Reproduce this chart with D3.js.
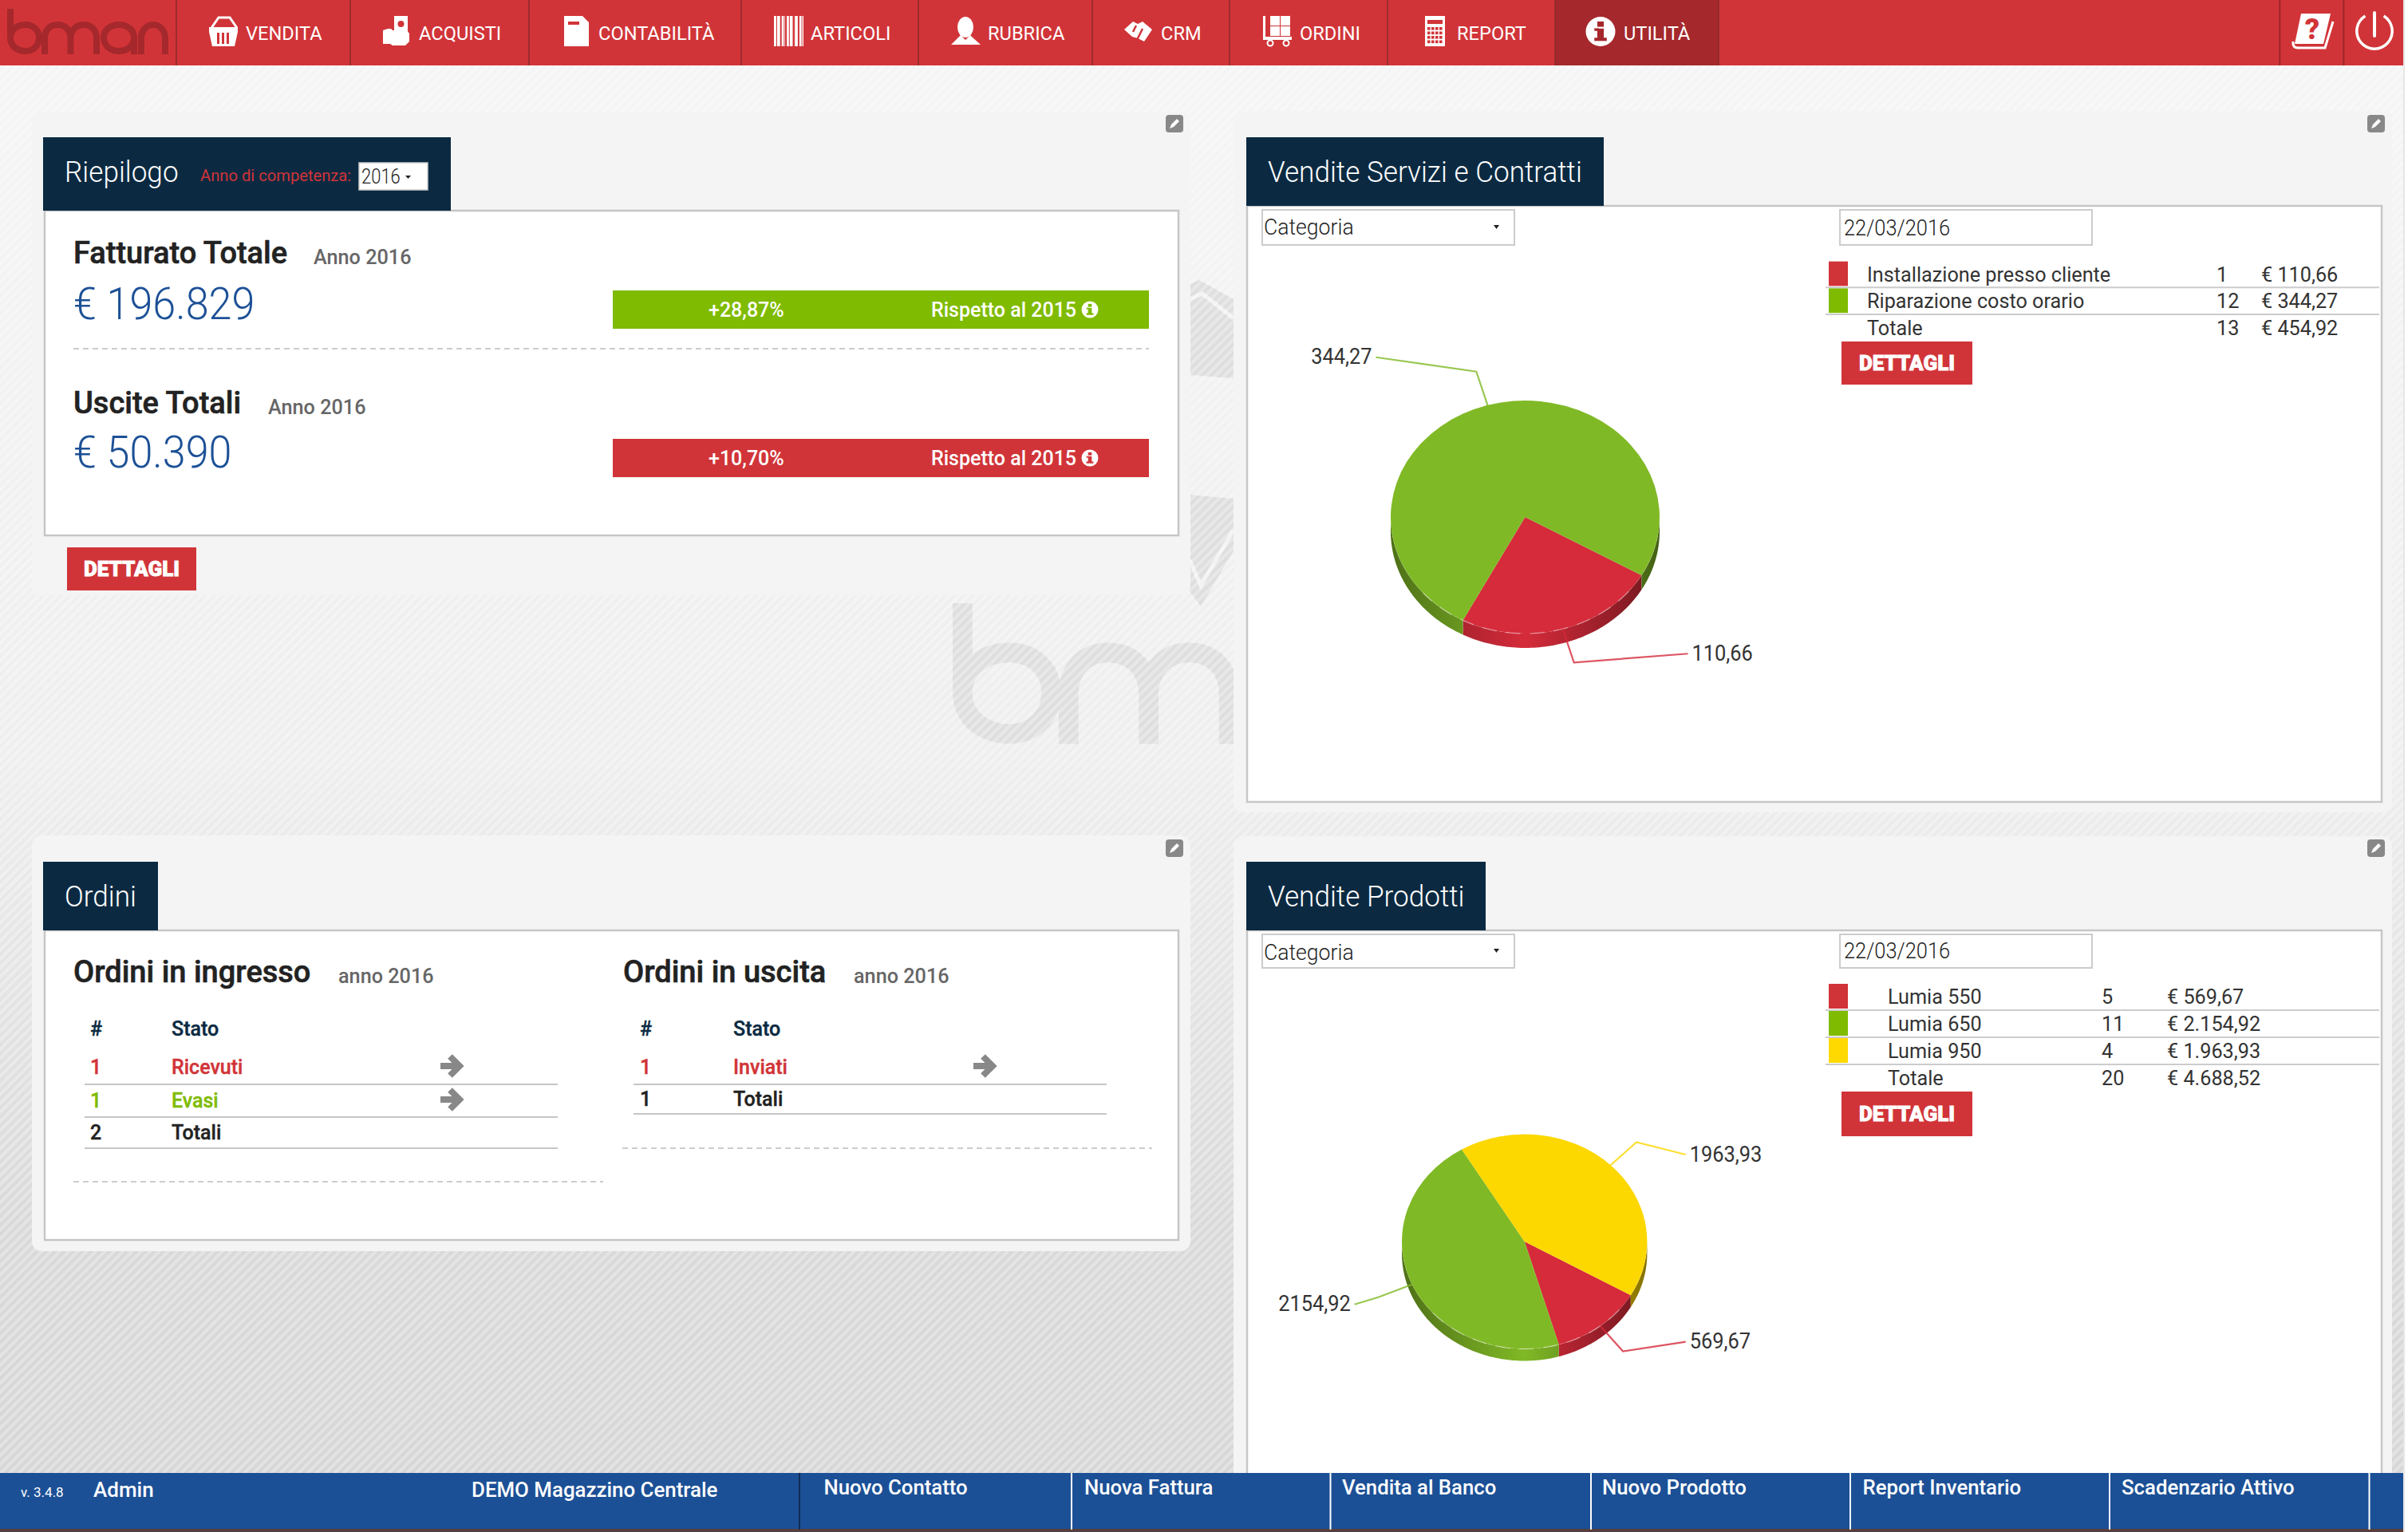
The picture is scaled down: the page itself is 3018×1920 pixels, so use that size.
<!DOCTYPE html>
<html>
<head>
<meta charset="utf-8">
<title>bman</title>
<script src="https://cdnjs.cloudflare.com/ajax/libs/d3/7.8.5/d3.min.js"></script>
<style>
  html, body { margin: 0; padding: 0; background: #fff; }
  svg { display: block; }
  text { font-family: Roboto, sans-serif; }
</style>
</head>
<body>
<svg id="page" width="3018" height="1920"></svg>
<script>
var navLabels = ["VENDITA", "ACQUISTI", "CONTABILITÀ", "ARTICOLI", "RUBRICA", "CRM", "ORDINI", "REPORT", "UTILITÀ"];
var footerLinks = ["Nuovo Contatto", "Nuova Fattura", "Vendita al Banco", "Nuovo Prodotto", "Report Inventario", "Scadenzario Attivo"];

var serviceNames = ["Installazione presso cliente", "Riparazione costo orario"];
var serviceCounts = [1, 12];
var serviceValues = [110.66, 344.27];
var serviceTotal = ["Totale", "13", "€ 454,92"];

var productNames = ["Lumia 550", "Lumia 650", "Lumia 950"];
var productCounts = [5, 11, 4];
var productValues = [569.67, 2154.92, 1963.93];
var productTotal = ["Totale", "20", "€ 4.688,52"];

var incomingStates = ["Ricevuti", "Evasi", "Totali"];
var incomingCounts = [1, 1, 2];
var outgoingStates = ["Inviati", "Totali"];
var outgoingCounts = [1, 1];

var RED = "#d13438", DARKRED = "#a5282c", GREEN = "#7fbb00", NAVY = "#0b2a42", BLUE = "#1c5096";
var pieColors = ["#d52b3a", "#80b926", "#fcd700"];
var legendColors = [RED, GREEN, "#ffd900"];
var itFormat = d3.formatLocale({ decimal: ",", thousands: ".", grouping: [3], currency: ["€ ", ""] });
var plain = itFormat.format(".2f"), euro = itFormat.format("$,.2f");

var svg = d3.select("#page");
var defs = svg.append("defs");

function txt(parent, x, y, s, o) {
  o = o || {};
  return parent.append("text")
    .attr("transform", "translate(" + x + "," + y + ") scale(" + (o.sx || 1) + ",1)")
    .attr("font-size", o.size || 26)
    .attr("font-weight", o.weight || 400)
    .attr("fill", o.fill || "#333")
    .attr("stroke", o.stroke ? (o.fill || "#333") : null)
    .attr("stroke-width", o.stroke || null)
    .attr("font-family", o.family || null)
    .attr("text-anchor", o.anchor || "start")
    .text(s);
}
function box(parent, x, y, w, h, fill, rx) {
  return parent.append("rect").attr("x", x).attr("y", y).attr("width", w).attr("height", h)
    .attr("fill", fill).attr("rx", rx || 0);
}

// sfondo
var bg = defs.append("linearGradient").attr("id", "bgGrad").attr("x1", 0).attr("x2", 0).attr("y1", 0).attr("y2", 1);
bg.append("stop").attr("offset", "0.04").attr("stop-color", "#f5f5f5");
bg.append("stop").attr("offset", "0.5").attr("stop-color", "#eeeeee");
bg.append("stop").attr("offset", "0.8").attr("stop-color", "#d9d9d9");
bg.append("stop").attr("offset", "1").attr("stop-color", "#d6d6d6");
defs.append("pattern").attr("id", "hatch").attr("width", 8).attr("height", 8)
  .attr("patternUnits", "userSpaceOnUse").attr("patternTransform", "rotate(45)")
  .append("rect").attr("width", 4).attr("height", 8).attr("fill", "#fff").attr("fill-opacity", 0.3);
box(svg, 0, 0, 3012, 1920, "url(#bgGrad)");
box(svg, 3012, 0, 2, 1920, "#e6e6e6");

// logo, stesso tracciato per barra e filigrana
var logoPaths = [
  "M13 11V47C13 58 22 64 32 64C42 64 49 57 49 47C49 38 42 31 32 31C22 31 13 37 13 47",
  "M56 68V48C56 38 62 31 72 31C82 31 88.5 38 88.5 48V68M88.5 48C88.5 38 95 31 105 31C115 31 121 38 121 48V68",
  "M168 68V47C168 38 160 31 149 31C138 31 130 38 130 47C130 57 138 64 149 64C160 64 168 57 168 47",
  "M177 68V48C177 38 184 31 192 31C200 31 207 38 207 48V68"
];
function logo(parent, tx, ty, k, color) {
  var g = parent.append("g").attr("transform", "translate(" + tx + "," + ty + ") scale(" + k + ")");
  g.append("title").text("bman");
  g.selectAll("path").data(logoPaths).join("path").attr("d", d => d)
    .attr("fill", "none").attr("stroke", color).attr("stroke-width", 8);
}
logo(svg, 1194 - 9 * 3.09, 756 - 11 * 3.09, 3.09, "#dedede");
svg.append("path").attr("d", "M1491 356L1503 351L1546 375V474L1491 470Z").attr("fill", "#dedede");
svg.append("path").attr("d", "M1491 375L1507 368L1546 399").attr("fill", "none").attr("stroke", "#f2f2f2").attr("stroke-width", 5);
svg.append("path").attr("d", "M1491 620L1546 625V690L1505 760L1491 741Z").attr("fill", "#dedede");
svg.append("path").attr("d", "M1491 702L1505 734L1546 664").attr("fill", "none").attr("stroke", "#f2f2f2").attr("stroke-width", 5);
box(svg, 0, 0, 3012, 1920, "url(#hatch)");

// pannelli
box(svg, 40, 140, 1452, 606, "#f4f4f4", 12);
box(svg, 1546, 139, 1452, 879, "#f4f4f4", 12);
box(svg, 40, 1047, 1452, 521, "#f4f4f4", 12);
box(svg, 1546, 1048, 1452, 830, "#f4f4f4", 12);

function card(x, y, w, h) {
  svg.append("rect").attr("x", x).attr("y", y).attr("width", w).attr("height", h)
    .attr("fill", "#fff").attr("stroke", "#c6c6c6").attr("stroke-width", 2.5);
}
card(56, 264, 1421, 407);
card(1563, 258, 1422, 747);
card(56, 1166, 1421, 388);
card(1563, 1166, 1422, 720);

function pen(x, y) {
  box(svg, x, y, 22, 22, "#888", 4);
  svg.append("path").attr("d", "M" + (x + 5) + " " + (y + 17) + "L" + (x + 7) + " " + (y + 12) + "L" + (x + 14) + " " + (y + 5)
    + "L" + (x + 17) + " " + (y + 8) + "L" + (x + 10) + " " + (y + 15) + "Z").attr("fill", "#fff");
}
pen(1461, 144); pen(2967, 144); pen(1461, 1052); pen(2967, 1052);

function titleBox(x, y, w, h, s) {
  box(svg, x, y, w, h, NAVY);
  txt(svg, x + 27, y + 56, s, { size: 37, weight: 300, fill: "#fff", sx: 0.95 });
}
titleBox(54, 172, 511, 92, "Riepilogo");
titleBox(1562, 172, 448, 86, "Vendite Servizi e Contratti");
titleBox(54, 1080, 144, 86, "Ordini");
titleBox(1562, 1080, 300, 86, "Vendite Prodotti");

function dettagli(x, y, w, h) {
  box(svg, x, y, w, h, RED);
  txt(svg, x + w / 2, y + h / 2 + 9, "DETTAGLI", { size: 26, weight: 900, fill: "#fff", anchor: "middle", stroke: 0.8 });
}

function infoIcon(cx, cy, r, col) {
  svg.append("circle").attr("cx", cx).attr("cy", cy).attr("r", r).attr("fill", "#fff");
  box(svg, cx - r * 0.22, cy - r * 0.68, r * 0.44, r * 0.36, col);
  box(svg, cx - r * 0.22, cy - r * 0.2, r * 0.44, r * 0.75, col);
  box(svg, cx - r * 0.42, cy + r * 0.42, r * 0.84, r * 0.22, col);
  box(svg, cx - r * 0.42, cy - r * 0.22, r * 0.3, r * 0.18, col);
}

// riepilogo
txt(svg, 251, 227, "Anno di competenza:", { size: 21, fill: RED, sx: 0.96 });
box(svg, 450, 204, 86, 34, "#fff").attr("stroke", "#ccc").attr("stroke-width", 1.5);
txt(svg, 453, 230, "2016", { size: 25, weight: 300, fill: "#222", sx: 0.88 });
svg.append("path").attr("d", "M508 220h7l-3.5 4z").attr("fill", "#222");

function summary(y, lift, title, annoX, amount, barCol, pct) {
  txt(svg, 92, y, title, { size: 38, weight: 500, fill: "#222", stroke: 0.6 });
  txt(svg, annoX, y + 1, "Anno 2016", { size: 26, weight: 500, fill: "#666", sx: 0.97 });
  txt(svg, 92, y + 70 - lift, amount, { size: 56, weight: 300, fill: BLUE, sx: 0.93 });
  box(svg, 768, y + 34 - lift, 672, 48, barCol);
  txt(svg, 888, y + 67 - lift, pct, { size: 25, weight: 500, fill: "#fff" });
  txt(svg, 1167, y + 67 - lift, "Rispetto al 2015", { size: 25, weight: 500, fill: "#fff" });
  infoIcon(1366, y + 58 - lift, 10.5, barCol);
}
summary(330, 0, "Fatturato Totale", 393, "€ 196.829", GREEN, "+28,87%");
summary(518, 2, "Uscite Totali", 336, "€ 50.390", RED, "+10,70%");

function dashed(x1, x2, y) {
  svg.append("line").attr("x1", x1).attr("x2", x2).attr("y1", y).attr("y2", y)
    .attr("stroke", "#ccc").attr("stroke-width", 2).attr("stroke-dasharray", "7,5");
}
dashed(92, 1440, 437);
dettagli(84, 686, 162, 54);

// ordini
function orderTable(x0, o) {
  txt(svg, x0, 1231, o.title, { size: 38, weight: 500, fill: "#222", stroke: 0.6 });
  txt(svg, o.annoX, 1232, "anno 2016", { size: 26, weight: 500, fill: "#666", sx: 0.97 });
  txt(svg, o.numX, 1298, "#", { size: 25, weight: 500, fill: NAVY, stroke: 0.4 });
  txt(svg, o.statoX, 1298, "Stato", { size: 25, weight: 500, fill: NAVY, stroke: 0.4 });
  o.states.forEach((s, i) => {
    var col = o.colors[i];
    txt(svg, o.numX, o.base[i], o.counts[i], { size: 25, weight: 500, fill: col, stroke: 0.4 });
    txt(svg, o.statoX, o.base[i], s, { size: 25, weight: 500, fill: col, stroke: 0.4 });
    svg.append("line").attr("x1", o.lineX[0]).attr("x2", o.lineX[1]).attr("y1", o.rule[i]).attr("y2", o.rule[i])
      .attr("stroke", "#c6c6c6").attr("stroke-width", 2);
    if (i < o.states.length - 1) {
      var cy = o.base[i] - 10, ax = o.arrowX;
      svg.append("path").attr("d", "M" + ax + " " + cy + "h24M" + (ax + 12) + " " + (cy - 12) + "l12 12l-12 12")
        .attr("fill", "none").attr("stroke", "#888").attr("stroke-width", 8);
    }
  });
}
orderTable(92, {
  title: "Ordini in ingresso", annoX: 424, numX: 113, statoX: 215, arrowX: 552,
  states: incomingStates, counts: incomingCounts, colors: [RED, GREEN, "#222"],
  base: [1346, 1388, 1428], rule: [1359, 1400, 1439], lineX: [106, 699]
});
orderTable(781, {
  title: "Ordini in uscita", annoX: 1070, numX: 802, statoX: 919, arrowX: 1220,
  states: outgoingStates, counts: outgoingCounts, colors: [RED, "#222"],
  base: [1346, 1386], rule: [1359, 1396], lineX: [794, 1387]
});
dashed(92, 756, 1481);
dashed(780, 1444, 1439);

// combo e legenda dei grafici
function inputs(y, h, baseCat, baseDate) {
  box(svg, 1582, y, 316, h, "#fff").attr("stroke", "#ccc").attr("stroke-width", 2);
  txt(svg, 1584, baseCat, "Categoria", { size: 28, weight: 300, fill: "#222", sx: 0.95 });
  svg.append("path").attr("d", "M1872 " + (y + h / 2 - 3) + "h7l-3.5 5z").attr("fill", "#222");
  box(svg, 2306, y, 316, h, "#fff").attr("stroke", "#ccc").attr("stroke-width", 2);
  txt(svg, 2311, baseDate, "22/03/2016", { size: 28, weight: 300, fill: "#222", sx: 0.91 });
}
inputs(263, 44, 294, 295);
inputs(1171, 42, 1203, 1201);

function legend(o) {
  var rows = o.names.map((n, i) => [n, String(o.counts[i]), euro(o.values[i])]);
  rows.push(o.total);
  var rowY = d3.scalePoint().domain(d3.range(rows.length)).range(o.yRange);
  rows.forEach((r, i) => {
    var cy = rowY(i);
    if (i < o.names.length) {
      box(svg, 2292, cy - o.step / 2 + 1, 24, o.step - 3, legendColors[i]);
      svg.append("line").attr("x1", 2288).attr("x2", 2982).attr("y1", cy + o.step / 2).attr("y2", cy + o.step / 2)
        .attr("stroke", "#ccc").attr("stroke-width", 2);
    }
    o.cols.forEach((x, c) => txt(svg, x, cy + 9, r[c], { size: 26, fill: "#333", sx: 0.97 }));
  });
}
legend({ names: serviceNames, counts: serviceCounts, values: serviceValues, total: serviceTotal,
  yRange: [343.5, 411], step: 33.7, cols: [2340, 2778, 2834] });
legend({ names: productNames, counts: productCounts, values: productValues, total: productTotal,
  yRange: [1249, 1351], step: 34, cols: [2366, 2634, 2716] });
dettagli(2308, 428, 164, 54);
dettagli(2308, 1368, 164, 56);

// torte 3d
var pieGen = d3.pie().sort(null).startAngle(Math.PI * 2 / 3).endAngle(Math.PI * 2 / 3 + Math.PI * 2);

function pie3d(id, values, o) {
  var sx = d3.scaleLinear().domain([-1, 1]).range([o.cx - o.rx, o.cx + o.rx]);
  var sy = d3.scaleLinear().domain([-1, 1]).range([o.cy - o.ry, o.cy + o.ry]);
  var slices = pieGen(values);
  var edge = d3.line();
  var g = svg.append("g");

  slices.forEach((d, i) => {
    var base = d3.color(pieColors[i]);
    var gid = "wall" + id + i;
    var lg = defs.append("linearGradient").attr("id", gid).attr("gradientUnits", "userSpaceOnUse")
      .attr("x1", o.cx - o.rx).attr("x2", o.cx + o.rx).attr("y1", 0).attr("y2", 0);
    lg.append("stop").attr("offset", 0).attr("stop-color", base.darker(1.4));
    lg.append("stop").attr("offset", 0.5).attr("stop-color", base);
    lg.append("stop").attr("offset", 1).attr("stop-color", base.darker(1.8));
    // solo la parte bassa dell'ellisse ha il bordo visibile
    [[Math.PI / 2, Math.PI * 1.5], [Math.PI * 2.5, Math.PI * 3.5]].forEach(win => {
      var a0 = Math.max(d.startAngle, win[0]), a1 = Math.min(d.endAngle, win[1]);
      if (a1 <= a0) return;
      var pts = d3.range(a0, a1, 0.02).concat(a1).map(a => d3.pointRadial(a, 1));
      var top = pts.map(p => [sx(p[0]), sy(p[1])]);
      var low = pts.slice().reverse().map(p => [sx(p[0]), sy(p[1]) + o.depth]);
      g.append("path").attr("d", edge(top.concat(low)) + "Z").attr("fill", "url(#" + gid + ")");
    });
  });

  var arc = d3.arc().innerRadius(0).outerRadius(o.rx);
  g.append("g").attr("transform", "translate(" + o.cx + "," + o.cy + ") scale(1," + (o.ry / o.rx) + ")")
    .selectAll("path").data(slices).join("path")
    .attr("d", arc).attr("fill", (d, i) => pieColors[i]);

  var shine = d3.range(Math.PI * 0.72, Math.PI * 1.28, 0.02).map(a => d3.pointRadial(a, 1)).map(p => [sx(p[0]), sy(p[1])]);
  g.append("path").attr("d", edge(shine)).attr("fill", "none").attr("stroke", "#fff").attr("stroke-opacity", 0.35)
    .attr("stroke-width", 1.5).attr("stroke-dasharray", "18,12");

  slices.forEach((d, i) => {
    var mid = (d.startAngle + d.endAngle) / 2;
    var p = d3.pointRadial(mid, 1), q = d3.pointRadial(mid, 1.3);
    var side = p[0] >= 0 ? 1 : -1;
    var end = [o.cx + side * o.labelX[side > 0 ? 1 : 0], sy(q[1]) + o.labelDy[i]];
    g.append("path")
      .attr("d", d3.line()([[sx(p[0]), sy(p[1])], [sx(q[0]), sy(q[1])], end]))
      .attr("fill", "none").attr("stroke", pieColors[i]).attr("stroke-opacity", 0.8).attr("stroke-width", 2.2);
    txt(g, end[0] + side * 5, end[1] + 8.5, plain(values[i]), { size: 27, family: "'Liberation Sans'", fill: "#333", anchor: side > 0 ? "start" : "end", sx: 0.94 });
  });
}
pie3d("a", serviceValues, { cx: 1911.5, cy: 648, rx: 168.5, ry: 146, depth: 18, labelX: [187, 204], labelDy: [-11, -18] });
pie3d("b", productValues, { cx: 1910.7, cy: 1556, rx: 153.7, ry: 134.5, depth: 15, labelX: [213, 202], labelDy: [-12, 9, 15.5] });

// barra in alto
box(svg, 0, 0, 3012, 82, RED);
box(svg, 1949, 0, 205, 82, DARKRED);
logo(svg, 0, 0, 1, DARKRED);
[221, 439, 663, 929, 1151, 1369, 1541, 1739, 1949, 2154].forEach(x => box(svg, x - 0.75, 0, 1.5, 82, "#8a2a2c"));
[2857, 2937].forEach(x => box(svg, x - 1, 0, 2.5, 82, DARKRED));
var navX = [308, 525, 750, 1016, 1238, 1455, 1629, 1826, 2035];
navLabels.forEach((s, i) => txt(svg, navX[i], 49.5, s, { size: 24, fill: "#fff", sx: 0.985 }));

var white = "#fff";
function shape(d, fill) { return svg.append("path").attr("d", d).attr("fill", fill || white); }
// cestino
svg.append("path").attr("d", "M265 35L274 22H288L297 35").attr("fill", "none").attr("stroke", white).attr("stroke-width", 3);
shape("M262 34H298V40L294 58H266L262 40Z");
[272, 278, 284].forEach(x => box(svg, x, 41, 3, 14, RED));
// mano con banconota
box(svg, 494, 20, 17, 21, white); svg.append("circle").attr("cx", 502.5).attr("cy", 30).attr("r", 4).attr("fill", RED);
shape("M486 36H490L492 38H510L513 42V52L508 57H492L489 55H480V38Z");
// documento
shape("M707 20H730L738 28V58H707Z"); box(svg, 712, 27, 14, 4, RED);
// codice a barre
box(svg, 970, 20, 37, 38, white);
d3.range(0, 9).forEach(k => box(svg, 973 + k * 3.7 + (k % 3), 20, k % 2 ? 2 : 1, 38, RED));
// rubrica
svg.append("ellipse").attr("cx", 1210).attr("cy", 34).attr("rx", 10).attr("ry", 13).attr("fill", white);
shape("M1204 44L1210 50L1216 44L1219 47L1229 56H1192L1201 47Z");
// crm
shape("M1409 37L1420 27L1426 30L1432 27L1444 37L1434 52L1426 48L1419 46Z");
svg.append("path").attr("d", "M1424 32L1420 40M1432 36L1425 50").attr("stroke", RED).attr("stroke-width", 2.5);
// ordini
[[1592, 20], [1605, 20], [1592, 33], [1605, 33]].forEach(p => box(svg, p[0], p[1], 12, 12, white));
box(svg, 1583, 20, 3, 27, white); box(svg, 1583, 46, 36, 4, white);
svg.selectAll(null).data([1592, 1612]).join("circle").attr("cx", d => d).attr("cy", 54).attr("r", 3.5)
  .attr("fill", "none").attr("stroke", white).attr("stroke-width", 2);
// report
box(svg, 1786, 20, 25, 38, white); box(svg, 1789, 25, 19, 5, RED);
d3.range(4).forEach(r => d3.range(4).forEach(c => box(svg, 1789 + c * 5, 34 + r * 5.5, 3.6, 3.6, RED)));
infoIcon(2006, 39.5, 18.5, DARKRED);
// guida
shape("M2884 17H2921L2912 55H2876Z");
svg.append("path").attr("d", "M2924 27L2914 60H2880Q2873 60 2874 52").attr("fill", "none").attr("stroke", white).attr("stroke-width", 3);
txt(svg, 2898, 49, "?", { size: 36, weight: 900, fill: RED, anchor: "middle" });
// spegni
svg.append("path").attr("d", d3.arc().innerRadius(20.5).outerRadius(24).startAngle(0.55).endAngle(Math.PI * 2 - 0.55)())
  .attr("transform", "translate(2976,39)").attr("fill", white);
svg.append("line").attr("x1", 2976).attr("x2", 2976).attr("y1", 16).attr("y2", 45).attr("stroke", white)
  .attr("stroke-width", 4).attr("stroke-linecap", "round");

// barra in basso
box(svg, 0, 1846, 3012, 71, BLUE);
box(svg, 0, 1916, 3012, 4, "#55403f");
txt(svg, 26, 1876, "v. 3.4.8", { size: 17, fill: "#fff" });
txt(svg, 117, 1876, "Admin", { size: 26, weight: 500, fill: "#fff" });
txt(svg, 591, 1876, "DEMO Magazzino Centrale", { size: 26, weight: 500, fill: "#fff", sx: 0.995 });
box(svg, 1001, 1846, 2, 71, "#0f2c55");
[1342, 1666.5, 1993, 2318, 2643, 2968.5].forEach(x => box(svg, x, 1846, 2, 71, "#fff"));
var footX = [1032.5, 1359, 1682, 2008, 2334.5, 2659];
footerLinks.forEach((s, i) => txt(svg, footX[i], 1873, s, { size: 26, weight: 500, fill: "#fff", sx: 0.99 }));
</script>
</body>
</html>
